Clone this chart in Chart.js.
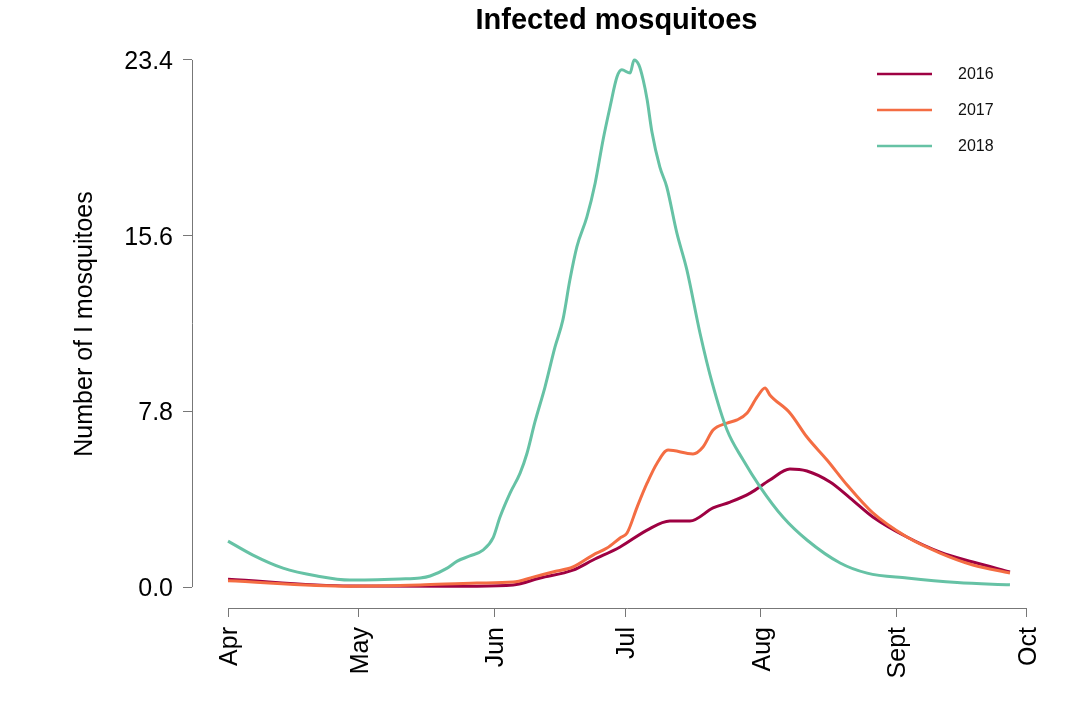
<!DOCTYPE html>
<html>
<head>
<meta charset="utf-8">
<title>Infected mosquitoes</title>
<script src="https://cdn.jsdelivr.net/npm/chart.js@4.4.1/dist/chart.umd.min.js"></script>
<style>
  html, body { margin: 0; padding: 0; background: #fff; }
  #wrap { width: 1080px; height: 705px; }
</style>
</head>
<body>
<div id="wrap"><canvas id="mosquitoChart" width="1080" height="705"></canvas></div>
<script>
// Days counted from 1 April
const monthTicks = [0, 30, 61, 91, 122, 153, 183];
const monthLabels = ['Apr', 'May', 'Jun', 'Jul', 'Aug', 'Sept', 'Oct'];
const yTicks = [0, 7.8, 15.6, 23.4];

const days2016 = [0, 28, 57, 65.3, 71.5, 79, 83.6, 89.8, 96, 101.2, 105.8, 111.1, 115, 119.6, 124.1, 128.7, 132.6, 137.9, 142.5, 147.7, 155.5, 163.1, 170.6, 179.1];
const values2016 = [0.35, 0.05, 0.04, 0.09, 0.40, 0.75, 1.20, 1.78, 2.53, 2.93, 2.93, 3.51, 3.77, 4.17, 4.75, 5.24, 5.15, 4.66, 3.95, 3.11, 2.22, 1.55, 1.11, 0.67];

const days2017 = [0, 28, 44, 57, 65.3, 69.9, 74.4, 79, 83.6, 86.8, 89.8, 91.4, 93.7, 96, 98.3, 100.8, 106.5, 108.8, 111.1, 114.3, 116.6, 118.9, 121.2, 123, 124.1, 128.7, 132.6, 137.2, 141.8, 147.7, 155.5, 163.1, 170.6, 179.1];
const values2017 = [0.28, 0.04, 0.09, 0.18, 0.22, 0.44, 0.67, 0.89, 1.42, 1.73, 2.18, 2.40, 3.55, 4.62, 5.51, 6.08, 5.91, 6.22, 6.97, 7.28, 7.42, 7.73, 8.44, 8.84, 8.53, 7.73, 6.66, 5.64, 4.53, 3.29, 2.22, 1.51, 0.98, 0.62];

const days2018 = [0, 5.7, 12.6, 20.4, 27.9, 39.4, 44, 46.3, 50.2, 52.5, 55.4, 58.4, 60.7, 62.3, 64.6, 66.9, 68.5, 70.3, 72.6, 74.9, 76.7, 78.3, 79.9, 82.2, 84.1, 85.9, 87.5, 89.1, 90.2, 92.1, 93, 94.1, 95.1, 96, 97.1, 98.9, 100.5, 102.8, 105.1, 108.1, 110.9, 114.3, 118, 121.9, 127.1, 132.6, 140.2, 146.4, 155.5, 167, 179.1];
const values2018 = [2.04, 1.42, 0.84, 0.49, 0.31, 0.36, 0.40, 0.49, 0.84, 1.15, 1.38, 1.64, 2.18, 3.11, 4.17, 5.06, 5.95, 7.33, 8.88, 10.66, 11.86, 13.63, 15.10, 16.43, 17.94, 19.85, 21.31, 22.65, 22.96, 22.82, 23.40, 23.18, 22.51, 21.63, 20.20, 18.65, 17.76, 15.72, 14.08, 11.28, 9.06, 6.97, 5.64, 4.44, 3.11, 2.09, 1.07, 0.62, 0.40, 0.20, 0.10];

const seriesNames = ['2016', '2017', '2018'];
const seriesColors = ['#9E0142', '#F46D43', '#66C2A5'];

const FONT = "'Liberation Sans', Arial, Helvetica, sans-serif";
const AXIS_COLOR = '#777777';

function toPoints(days, values) {
    return days.map((d, i) => ({ x: d, y: values[i] }));
}

// Axis lines (R style, only between first and last tick), title, y label and legend
const decorPlugin = {
    id: 'decor',
    afterDraw(chart) {
        const ctx = chart.ctx;
        const area = chart.chartArea;
        const xs = chart.scales.x;
        const ys = chart.scales.y;

        ctx.save();
        ctx.strokeStyle = AXIS_COLOR;
        ctx.lineWidth = 1;
        ctx.beginPath();
        ctx.moveTo(area.left + 0.5, ys.getPixelForValue(yTicks[0]));
        ctx.lineTo(area.left + 0.5, ys.getPixelForValue(yTicks[yTicks.length - 1]));
        ctx.moveTo(xs.getPixelForValue(monthTicks[0]), area.bottom + 0.5);
        ctx.lineTo(xs.getPixelForValue(monthTicks[monthTicks.length - 1]), area.bottom + 0.5);
        ctx.stroke();

        // title
        ctx.fillStyle = '#000';
        ctx.font = 'bold 29px ' + FONT;
        ctx.textAlign = 'center';
        ctx.textBaseline = 'middle';
        ctx.fillText('Infected mosquitoes', (area.left + area.right) / 2 - 11, 21);

        // y axis title
        ctx.save();
        ctx.translate(85, 324);
        ctx.rotate(-Math.PI / 2);
        ctx.font = '25px ' + FONT;
        ctx.fillText('Number of I mosquitoes', 0, 0);
        ctx.restore();

        // legend
        ctx.font = '16px ' + FONT;
        ctx.textAlign = 'left';
        seriesNames.forEach((name, i) => {
            const y = 74 + i * 36;
            ctx.strokeStyle = seriesColors[i];
            ctx.lineWidth = 2.5;
            ctx.beginPath();
            ctx.moveTo(877, y);
            ctx.lineTo(932, y);
            ctx.stroke();
            ctx.fillStyle = '#111';
            ctx.fillText(name, 958, y + 1);
        });
        ctx.restore();
    }
};

const allDays = [days2016, days2017, days2018];
const allValues = [values2016, values2017, values2018];

new Chart(document.getElementById('mosquitoChart').getContext('2d'), {
    type: 'line',
    data: {
        datasets: seriesNames.map((name, i) => ({
            label: name,
            data: toPoints(allDays[i], allValues[i]),
            borderColor: seriesColors[i],
            backgroundColor: seriesColors[i],
            borderWidth: 3,
            pointRadius: 0,
            fill: false,
            cubicInterpolationMode: 'monotone',
            order: 3 - i
        }))
    },
    options: {
        responsive: false,
        animation: false,
        devicePixelRatio: 1,
        layout: { padding: { top: 39, right: 17, left: 0, bottom: 0 } },
        plugins: {
            legend: { display: false },
            title: { display: false },
            tooltip: { enabled: false }
        },
        scales: {
            x: {
                type: 'linear',
                min: -8.25,
                max: 191.25,
                afterBuildTicks: (scale) => { scale.ticks = monthTicks.map(v => ({ value: v })); },
                afterFit: (scale) => { scale.height = 97; },
                border: { display: false },
                grid: { drawOnChartArea: false, tickLength: 9, color: AXIS_COLOR },
                ticks: {
                    autoSkip: false,
                    maxRotation: 90,
                    minRotation: 90,
                    padding: 10,
                    labelOffset: 2,
                    color: '#000',
                    font: { family: FONT, size: 25 },
                    callback: (v) => monthLabels[monthTicks.indexOf(v)]
                }
            },
            y: {
                min: -0.93,
                max: 24.33,
                afterBuildTicks: (scale) => { scale.ticks = yTicks.map(v => ({ value: v })); },
                afterFit: (scale) => { scale.width = 192; },
                border: { display: false },
                grid: { drawOnChartArea: false, tickLength: 9, color: AXIS_COLOR },
                ticks: {
                    padding: 10,
                    labelOffset: 2,
                    color: '#000',
                    font: { family: FONT, size: 25 },
                    callback: (v) => v.toFixed(1)
                }
            }
        }
    },
    plugins: [decorPlugin]
});
</script>
</body>
</html>
